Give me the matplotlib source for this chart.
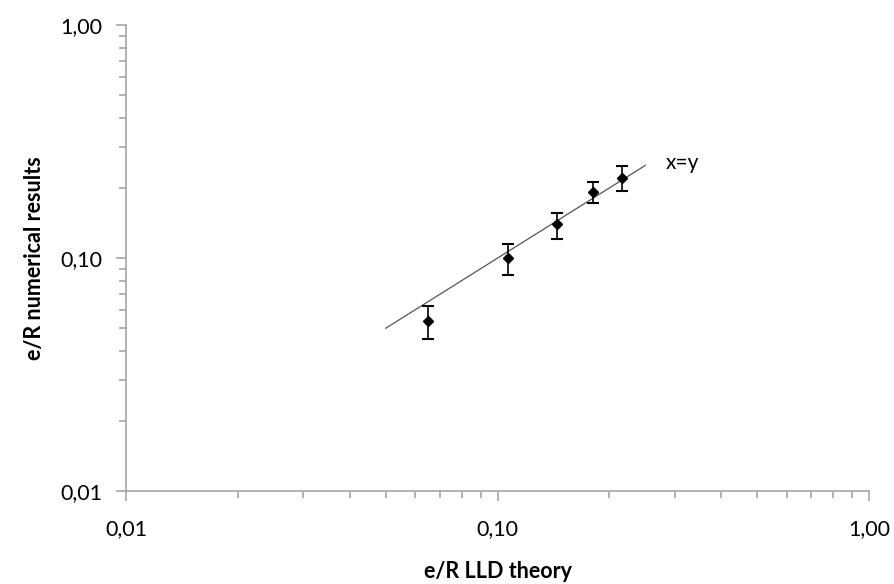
import matplotlib.pyplot as plt
from matplotlib.ticker import FixedLocator, FixedFormatter, LogLocator, NullFormatter

plt.rcParams['font.family'] = ['Lato', 'DejaVu Sans']

# data
theory = [0.065, 0.1065, 0.1445, 0.181, 0.216]
numerical = [0.0535, 0.100, 0.140, 0.193, 0.221]
err_low = [0.0084, 0.0152, 0.0194, 0.0203, 0.0265]
err_high = [0.0089, 0.0153, 0.016, 0.0194, 0.027]
line_x = [0.05, 0.25]
tick_vals = [0.01, 0.1, 1.0]
tick_labels = ['0,01', '0,10', '1,00']

fig = plt.figure(figsize=(8.94, 5.84), dpi=100)
ax = fig.add_axes([0.141, 0.159, 0.831, 0.798])

ax.plot(line_x, line_x, color='#555555', lw=0.9)
ax.errorbar(theory, numerical, yerr=[err_low, err_high], fmt='D', color='black',
            ms=5, ecolor='black', elinewidth=1.2, capsize=4, capthick=1.5)
ax.text(0.283, 0.255, 'x=y', fontsize=15, va='center', ha='left')

ax.set_xscale('log')
ax.set_yscale('log')
ax.set_xlim(0.01, 1.0)
ax.set_ylim(0.01, 1.0)

for axis in (ax.xaxis, ax.yaxis):
    axis.set_major_locator(FixedLocator(tick_vals))
    axis.set_major_formatter(FixedFormatter(tick_labels))
    axis.set_minor_locator(LogLocator(base=10, subs=range(2, 10)))
    axis.set_minor_formatter(NullFormatter())

ax.spines['top'].set_visible(False)
ax.spines['right'].set_visible(False)
for s in ('left', 'bottom'):
    ax.spines[s].set_color('#a6a6a6')
    ax.spines[s].set_linewidth(1.2)

ax.tick_params(which='major', direction='out', length=7, width=1.2, color='#a6a6a6',
               labelsize=15.5)
ax.tick_params(which='minor', direction='out', length=5, width=1.2, color='#a6a6a6')
ax.tick_params(axis='y', which='major', pad=10)
ax.tick_params(axis='x', which='major', pad=13)

ax.set_xlabel('e/R LLD theory', fontsize=15.5, fontweight='bold', labelpad=16)
ax.set_ylabel('e/R numerical results', fontsize=15.5, fontweight='bold', labelpad=11)

fig.savefig('out.png', dpi=100)
